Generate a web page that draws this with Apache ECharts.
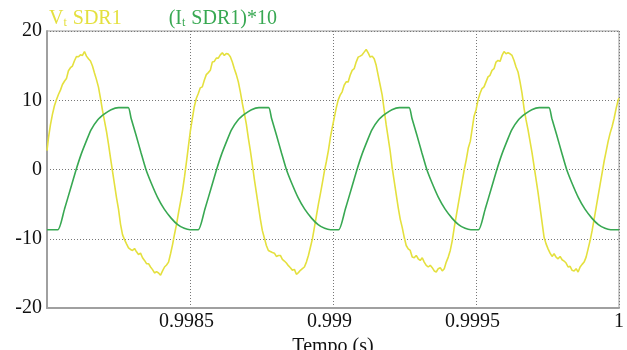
<!DOCTYPE html>
<html>
<head>
<meta charset="utf-8">
<script src="https://cdn.jsdelivr.net/npm/echarts@6/dist/echarts.min.js"></script>
<style>
html,body{margin:0;padding:0;background:#fff;}
#chart{width:627px;height:350px;}
</style>
</head>
<body>
<div id="chart"></div>
<script>
// ---- data (time in s, value) ----
const seriesNames = ['Vt SDR1', '(It SDR1)*10'];
const xTickValues = [0.9985, 0.999, 0.9995, 1];
const xTickLabels = ['0.9985', '0.999', '0.9995', '1'];
const yTickLabels = ['-20', '-10', '0', '10', '20'];
const xAxisName = 'Tempo (s)';

const vtCycle1 = [[0.998000,2.72],[0.998005,4.53],[0.998012,6.44],[0.998019,7.97],[0.998026,9.21],[0.998033,10.07],[0.998040,10.83],[0.998047,11.46],[0.998054,12.27],[0.998061,12.74],[0.998068,13.13],[0.998075,14.27],[0.998082,14.70],[0.998089,14.94],[0.998096,15.70],[0.998103,16.32],[0.998110,16.28],[0.998117,16.56],[0.998124,16.47],[0.998131,17.04],[0.998138,16.37],[0.998145,15.99],[0.998152,15.66],[0.998159,14.94],[0.998166,13.94],[0.998173,12.98],[0.998180,11.89],[0.998187,10.26],[0.998194,8.54],[0.998201,7.02],[0.998208,5.49],[0.998215,3.68],[0.998222,1.67],[0.998229,-0.24],[0.998236,-2.15],[0.998243,-4.06],[0.998250,-5.73],[0.998257,-7.88],[0.998264,-9.40],[0.998271,-10.12],[0.998278,-10.74],[0.998285,-11.31],[0.998292,-11.55],[0.998299,-11.69],[0.998306,-11.41],[0.998313,-11.89],[0.998320,-12.27],[0.998327,-12.08],[0.998334,-12.74],[0.998341,-13.13],[0.998348,-13.60],[0.998355,-13.60],[0.998362,-14.08],[0.998369,-14.46],[0.998376,-14.94],[0.998383,-14.75],[0.998390,-14.94],[0.998397,-15.27],[0.998404,-14.65],[0.998411,-14.08],[0.998418,-13.79],[0.998425,-13.37],[0.998432,-12.17],[0.998439,-10.84],[0.998446,-9.31],[0.998453,-7.88],[0.998460,-6.21],[0.998467,-4.63],[0.998474,-3.01],[0.998481,-1.00],[0.998488,1.20]];
const vtCycle2 = [[0.998494,3.20],[0.998501,5.49],[0.998508,7.30],[0.998515,9.07],[0.998522,10.26],[0.998529,10.98],[0.998536,11.79],[0.998543,11.93],[0.998550,12.89],[0.998557,13.70],[0.998564,13.99],[0.998571,14.32],[0.998578,15.51],[0.998585,15.61],[0.998592,16.09],[0.998599,16.09],[0.998606,16.56],[0.998613,16.85],[0.998620,16.47],[0.998627,16.75],[0.998634,16.66],[0.998641,16.28],[0.998648,15.51],[0.998655,14.56],[0.998662,13.70],[0.998669,12.65],[0.998676,11.22],[0.998683,9.55],[0.998690,8.11],[0.998697,6.54],[0.998704,4.53],[0.998711,2.72],[0.998718,0.72],[0.998725,-1.43],[0.998732,-3.34],[0.998739,-5.25],[0.998746,-7.16],[0.998753,-8.83],[0.998760,-9.88],[0.998767,-10.98],[0.998774,-11.69],[0.998781,-11.84],[0.998788,-11.98],[0.998795,-12.08],[0.998802,-12.55],[0.998809,-12.41],[0.998816,-12.41],[0.998823,-12.98],[0.998830,-13.22],[0.998837,-13.51],[0.998844,-13.89],[0.998851,-14.18],[0.998858,-14.56],[0.998865,-14.42],[0.998872,-15.13],[0.998879,-14.89],[0.998886,-14.56],[0.998893,-14.32],[0.998900,-14.08],[0.998907,-13.37],[0.998914,-12.41],[0.998921,-11.22],[0.998928,-10.02],[0.998935,-8.35],[0.998942,-6.68],[0.998949,-5.01],[0.998956,-3.48],[0.998963,-1.91],[0.998970,-0.24],[0.998977,1.19],[0.998984,2.77],[0.998991,4.68]];
const vtCycle3 = [[0.998997,5.97],[0.999004,7.40],[0.999011,8.83],[0.999018,10.02],[0.999025,10.74],[0.999032,11.22],[0.999039,12.17],[0.999046,12.65],[0.999053,12.65],[0.999060,13.60],[0.999067,14.32],[0.999074,14.56],[0.999081,15.51],[0.999088,16.23],[0.999095,16.37],[0.999102,16.56],[0.999109,16.95],[0.999116,17.33],[0.999123,16.85],[0.999130,16.23],[0.999137,16.37],[0.999144,15.99],[0.999151,15.04],[0.999158,13.60],[0.999165,12.17],[0.999172,10.74],[0.999179,8.59],[0.999186,6.44],[0.999193,4.53],[0.999200,2.63],[0.999207,0.24],[0.999214,-1.67],[0.999221,-3.58],[0.999228,-5.49],[0.999235,-7.16],[0.999242,-8.35],[0.999249,-9.79],[0.999256,-10.98],[0.999263,-11.46],[0.999270,-11.69],[0.999277,-12.65],[0.999284,-12.74],[0.999291,-12.41],[0.999298,-12.89],[0.999305,-13.13],[0.999312,-12.74],[0.999319,-13.37],[0.999326,-13.84],[0.999333,-14.08],[0.999340,-13.84],[0.999347,-14.18],[0.999354,-14.65],[0.999361,-14.80],[0.999368,-14.32],[0.999375,-14.18],[0.999382,-14.65],[0.999389,-14.32],[0.999396,-13.37],[0.999403,-12.65],[0.999410,-11.69],[0.999417,-10.26],[0.999424,-8.35],[0.999431,-6.68],[0.999438,-5.01],[0.999445,-3.34],[0.999452,-1.67],[0.999459,0.00],[0.999466,1.43],[0.999473,3.10],[0.999480,4.06],[0.999487,5.97]];
const vtCycle4 = [[0.999493,7.64],[0.999500,8.59],[0.999507,10.02],[0.999514,10.98],[0.999521,11.69],[0.999528,11.93],[0.999535,12.65],[0.999542,13.37],[0.999549,13.60],[0.999556,14.32],[0.999563,14.56],[0.999570,15.51],[0.999577,15.75],[0.999584,15.61],[0.999591,16.47],[0.999598,17.04],[0.999605,16.71],[0.999612,16.85],[0.999619,16.71],[0.999626,16.47],[0.999633,15.75],[0.999640,14.80],[0.999647,14.08],[0.999654,12.65],[0.999661,10.98],[0.999668,8.83],[0.999675,7.16],[0.999682,5.73],[0.999689,4.06],[0.999696,2.39],[0.999703,0.48],[0.999710,-1.43],[0.999717,-3.34],[0.999724,-5.49],[0.999731,-7.64],[0.999738,-9.79],[0.999745,-10.74],[0.999752,-11.46],[0.999759,-12.08],[0.999766,-12.55],[0.999773,-12.17],[0.999780,-12.65],[0.999787,-12.89],[0.999794,-12.55],[0.999801,-13.03],[0.999808,-13.22],[0.999815,-13.51],[0.999822,-14.08],[0.999829,-13.99],[0.999836,-14.56],[0.999843,-14.65],[0.999850,-14.32],[0.999857,-14.80],[0.999864,-14.08],[0.999871,-13.70],[0.999878,-13.37],[0.999885,-12.65],[0.999892,-11.46],[0.999899,-10.26],[0.999906,-8.83],[0.999913,-7.16],[0.999920,-5.49],[0.999927,-3.82],[0.999934,-2.15],[0.999941,-0.48],[0.999948,1.19],[0.999955,2.63],[0.999962,4.06],[0.999969,5.25],[0.999976,6.21],[0.999983,7.40],[0.999990,8.83],[0.999997,10.02],[1.000000,10.30]];

const itCycle1 = [[0.998000,-8.69],[0.998038,-8.69],[0.998061,-5.73],[0.998084,-2.53],[0.998102,0],[0.998119,2.15],[0.998137,4.06],[0.998154,5.73],[0.998177,7.16],[0.998201,8.02],[0.998224,8.64],[0.998250,8.93],[0.998284,8.93],[0.998294,7.40],[0.998311,5.01],[0.998329,2.39],[0.998346,0],[0.998364,-1.91],[0.998387,-4.06],[0.998410,-5.73],[0.998434,-7.02],[0.998457,-7.97],[0.998480,-8.50],[0.998500,-8.69]];
const itCycle2 = [[0.998529,-8.69],[0.998552,-5.73],[0.998575,-2.53],[0.998593,0],[0.998610,2.15],[0.998628,4.06],[0.998645,5.73],[0.998668,7.16],[0.998692,8.02],[0.998715,8.64],[0.998741,8.93],[0.998775,8.93],[0.998785,7.40],[0.998802,5.01],[0.998820,2.39],[0.998837,0],[0.998855,-1.91],[0.998878,-4.06],[0.998901,-5.73],[0.998925,-7.02],[0.998948,-7.97],[0.998971,-8.50],[0.998991,-8.69]];
const itCycle3 = [[0.999020,-8.69],[0.999043,-5.73],[0.999066,-2.53],[0.999084,0],[0.999101,2.15],[0.999119,4.06],[0.999136,5.73],[0.999159,7.16],[0.999183,8.02],[0.999206,8.64],[0.999232,8.93],[0.999266,8.93],[0.999276,7.40],[0.999293,5.01],[0.999311,2.39],[0.999328,0],[0.999346,-1.91],[0.999369,-4.06],[0.999392,-5.73],[0.999416,-7.02],[0.999439,-7.97],[0.999462,-8.50],[0.999482,-8.69]];
const itCycle4 = [[0.999509,-8.69],[0.999532,-5.73],[0.999555,-2.53],[0.999573,0],[0.999590,2.15],[0.999608,4.06],[0.999625,5.73],[0.999648,7.16],[0.999672,8.02],[0.999695,8.64],[0.999721,8.93],[0.999755,8.93],[0.999765,7.40],[0.999782,5.01],[0.999800,2.39],[0.999817,0],[0.999835,-1.91],[0.999858,-4.06],[0.999881,-5.73],[0.999905,-7.02],[0.999928,-7.97],[0.999951,-8.50],[0.999971,-8.69],[1.000000,-8.69]];

// ---- chart ----
const YELLOW = '#e4e03e';
const GREEN = '#38a852';
const FONT = '"Liberation Serif", "DejaVu Serif", serif';

const vtData = vtCycle1.concat(vtCycle2, vtCycle3, vtCycle4);
const itData = itCycle1.concat(itCycle2, itCycle3, itCycle4);

function legendStyle(color) {
  return {color: color, fontFamily: FONT, fontSize: 20,
    rich: {
      b: {color: color, fontFamily: FONT, fontSize: 20, lineHeight: 22, verticalAlign: 'bottom'},
      s: {color: color, fontFamily: FONT, fontSize: 12, lineHeight: 22, verticalAlign: 'bottom', padding: [0, 1, 0, 0]}
    }};
}

const chart = echarts.init(document.getElementById('chart'), null, {renderer: 'canvas'});
chart.setOption({
  animation: false,
  backgroundColor: '#fff',
  textStyle: {fontFamily: FONT},
  legend: {
    left: 44, top: 9, padding: 0,
    icon: 'none', itemWidth: 0, itemHeight: 0, itemGap: 42,
    selectedMode: false,
    data: [
      {name: seriesNames[0], textStyle: legendStyle(YELLOW)},
      {name: seriesNames[1], textStyle: legendStyle(GREEN)}
    ],
    formatter: function (name) {
      if (name === seriesNames[0]) return '{b|V}{s|t}{b| SDR1}';
      return '{b|(I}{s|t}{b| SDR1)*10}';
    }
  },
  grid: {left: 47, right: 8, top: 31, bottom: 42, containLabel: false, outerBoundsMode: 'none',
    show: true, borderColor: '#9a9a9a', borderWidth: 1},
  xAxis: {
    type: 'value', min: 0.998, max: 1.0, interval: 0.0005,
    name: xAxisName, nameLocation: 'middle', nameGap: 23,
    nameTextStyle: {color: '#111', fontFamily: FONT, fontSize: 20},
    axisLine: {show: true, onZero: false, lineStyle: {color: '#a0a0a0', width: 2}},
    axisTick: {show: false},
    axisLabel: {showMinLabel: false, margin: 4, color: '#111', fontFamily: FONT, fontSize: 20,
      rich: {
        s: {color: '#111', fontFamily: FONT, fontSize: 20, padding: [0, 7, 0, 0]},
        n: {color: '#111', fontFamily: FONT, fontSize: 20}
      },
      formatter: function (v) {
        for (let i = 0; i < xTickValues.length; i++) {
          if (Math.abs(v - xTickValues[i]) < 1e-7) {
            return i === xTickValues.length - 1 ? '{n|' + xTickLabels[i] + '}' : '{s|' + xTickLabels[i] + '}';
          }
        }
        return '';
      }},
    splitLine: {show: true, lineStyle: {color: '#777', type: [1, 2], width: 1}}
  },
  yAxis: {
    type: 'value', min: -20, max: 20, interval: 10,
    axisLine: {show: true, onZero: false, lineStyle: {color: '#a0a0a0', width: 2}},
    axisTick: {show: false},
    axisLabel: {margin: 5, color: '#111', fontFamily: FONT, fontSize: 20,
      formatter: function (v) {
        const s = String(Math.round(v));
        return yTickLabels.indexOf(s) >= 0 ? s : '';
      }},
    splitLine: {show: true, lineStyle: {color: '#777', type: [1, 2], width: 1}}
  },
  series: [
    {name: seriesNames[0], type: 'line', data: vtData, showSymbol: false, symbol: 'none',
      lineStyle: {color: YELLOW, width: 1.6}, itemStyle: {color: YELLOW}},
    {name: seriesNames[1], type: 'line', data: itData, showSymbol: false, symbol: 'none',
      smooth: 0.2,
      lineStyle: {color: GREEN, width: 1.6}, itemStyle: {color: GREEN}}
  ]
});
</script>
</body>
</html>
